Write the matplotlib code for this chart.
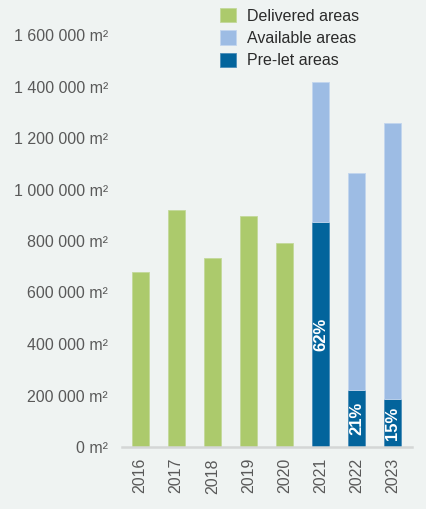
import matplotlib.pyplot as plt
from matplotlib.ticker import FuncFormatter

plt.rcParams['font.family'] = ['Liberation Sans', 'DejaVu Sans']

years = ['2016', '2017', '2018', '2019', '2020', '2021', '2022', '2023']
delivered = [680000, 920000, 735000, 897000, 792000, 0, 0, 0]
total_pipeline = [0, 0, 0, 0, 0, 1417000, 1063000, 1257000]
prelet = [0, 0, 0, 0, 0, 874000, 221000, 186000]
prelet_share = [None, None, None, None, None, '62%', '21%', '15%']

bg = '#eff3f2'
green = '#acca6c'
light_blue = '#9dbce4'
dark_blue = '#03649c'
grey = '#595959'

fig = plt.figure(figsize=(4.26, 5.09), dpi=100, facecolor=bg)
ax = fig.add_axes([122 / 426, 62 / 509, 290 / 426, 437.75 / 509], facecolor=bg)

x = range(len(years))
w = 0.47
available = [t - p for t, p in zip(total_pipeline, prelet)]

b1 = ax.bar(x, delivered, w, color=green, edgecolor='#c3d99a', linewidth=0.6,
            label='Delivered areas')
b3 = ax.bar(x, prelet, w, color=dark_blue, edgecolor='#4a8cb8', linewidth=0.6,
            label='Pre-let areas')
b2 = ax.bar(x, available, w, bottom=prelet, color=light_blue, edgecolor='#c2d5ee',
            linewidth=0.6, label='Available areas')

# share of pre-let space, written in the middle of the dark segment
for i, s in enumerate(prelet_share):
    if s:
        ax.text(i, prelet[i] / 2, s, rotation=90, ha='center', va='center',
                color='white', fontweight='bold', fontsize=12)

ax.set_xlim(-0.5, 7.53)
ax.set_ylim(0, 1700000)
ax.set_yticks(range(0, 1600001, 200000))
ax.yaxis.set_major_formatter(FuncFormatter(
    lambda v, p: '{:,}'.format(int(v)).replace(',', ' ') + ' m²'))
ax.set_xticks(list(x))
ax.set_xticklabels(years, rotation=90)
ax.tick_params(axis='both', length=0, labelsize=11.5, colors=grey)
ax.tick_params(axis='y', pad=10)
ax.tick_params(axis='x', pad=8)

for side in ['top', 'right', 'left']:
    ax.spines[side].set_visible(False)
ax.spines['bottom'].set_color('#d4d6d6')
ax.spines['bottom'].set_linewidth(1.8)

leg = fig.legend([b1, b2, b3], ['Delivered areas', 'Available areas', 'Pre-let areas'],
                 loc='upper left', bbox_to_anchor=(220 / 426, 1 - 8 / 509),
                 frameon=False, fontsize=11.5, handlelength=1.0, handleheight=1.0,
                 handletextpad=0.7, labelspacing=0.42, borderpad=0, borderaxespad=0)
for t in leg.get_texts():
    t.set_color('#2b2b2b')

fig.savefig('out.png', dpi=100, facecolor=bg)
